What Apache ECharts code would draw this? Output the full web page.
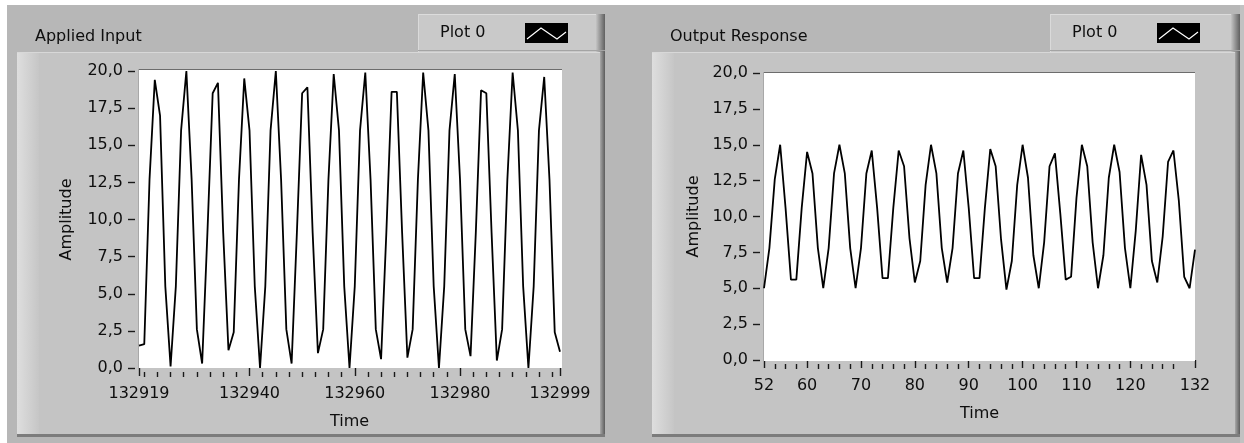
<!DOCTYPE html>
<html>
<head>
<meta charset="utf-8">
<script src="https://cdn.jsdelivr.net/npm/echarts@6/dist/echarts.min.js"></script>
<style>
  html, body { margin: 0; padding: 0; background: #ffffff; }
  #chart { width: 1244px; height: 443px; }
</style>
</head>
<body>
<div id="chart"></div>
<script>
// ---- data ----
const inputTitle = 'Applied Input';
const outputTitle = 'Output Response';
const plotName = 'Plot 0';
const timeName = 'Time';
const amplitudeName = 'Amplitude';

const inputStartTime = 132919;
const inputValues = [
  1.5, 1.6, 12.7, 19.4, 17.0, 5.5, 0.1, 5.5, 16.0, 20.0,
  12.7, 2.6, 0.3, 9.1, 18.5, 19.2, 9.1, 1.2, 2.4, 12.7,
  19.5, 16.0, 5.5, 0.0, 5.5, 16.0, 20.0, 12.7, 2.6, 0.3,
  9.1, 18.5, 18.9, 9.1, 1.0, 2.6, 12.7, 19.8, 16.0, 5.5,
  0.0, 5.5, 16.0, 19.9, 12.7, 2.6, 0.6, 9.1, 18.6, 18.6,
  9.1, 0.7, 2.6, 12.7, 19.9, 16.0, 5.5, 0.0, 5.5, 16.0,
  19.8, 12.7, 2.6, 0.8, 9.1, 18.7, 18.5, 9.1, 0.5, 2.6,
  12.7, 19.9, 16.0, 5.5, 0.0, 5.5, 16.0, 19.6, 12.7, 2.4,
  1.1
];

const outputStartTime = 52;
const outputValues = [
  5.0, 7.8, 12.6, 15.0, 10.6, 5.6, 5.6, 10.6, 14.5, 13.0,
  7.8, 5.0, 7.8, 13.0, 15.0, 13.0, 7.8, 5.0, 7.8, 13.0,
  14.6, 10.6, 5.7, 5.7, 10.6, 14.6, 13.5, 8.5, 5.4, 6.9,
  12.2, 15.0, 13.0, 7.8, 5.4, 7.8, 13.0, 14.6, 10.6, 5.7,
  5.7, 10.6, 14.7, 13.5, 8.4, 4.9, 6.9, 12.2, 15.0, 12.7,
  7.3, 5.0, 8.2, 13.5, 14.4, 10.2, 5.6, 5.8, 11.3, 15.0,
  13.5, 8.2, 5.0, 7.3, 12.7, 15.0, 13.1, 7.8, 5.0, 9.0,
  14.3, 12.2, 6.9, 5.4, 8.6, 13.8, 14.6, 11.1, 5.8, 5.0,
  7.7
];

const inputMajorTicks = [132919, 132940, 132960, 132980, 132999];
const outputMajorTicks = [52, 60, 70, 80, 90, 100, 110, 120, 132];
const amplitudeMin = 0;
const amplitudeMax = 20;
const amplitudeStep = 2.5;

// minor tick marks between the labelled ones
const inputMinorTicks = [];
for (let v = 132920; v < 132999; v += 2.5) {
  if (inputMajorTicks.indexOf(v) < 0) inputMinorTicks.push(v);
}
const outputMinorTicks = [];
for (let v = 54; v < 132; v += 2) {
  if (v % 10 !== 0) outputMinorTicks.push(v);
}

// ---- helpers ----
const FONT = "'DejaVu Sans', 'Noto Sans', sans-serif";
const TEXT = '#0e0e0e';
const TICK = '#1a1a1a';
const toPairs = (start, vals) => vals.map((v, i) => [start + i, v]);
const commaFmt = v => v.toFixed(1).replace('.', ',');

function hGrad(a, b) {
  return { type: 'linear', x: 0, y: 0, x2: 1, y2: 0, colorStops: [{ offset: 0, color: a }, { offset: 1, color: b }] };
}

// one framed graph panel with its caption and plot legend
function panel(x, w, title, legendX, plotRect) {
  const els = [];
  const y = 52, h = 385;
  els.push({ type: 'rect', shape: { x: x, y: y, width: w, height: h }, style: { fill: '#c4c4c4' }, z: 0 });
  els.push({ type: 'rect', shape: { x: x, y: y, width: 22, height: h }, style: { fill: hGrad('#dedede', '#c6c6c6') }, z: 0 });
  els.push({ type: 'line', shape: { x1: x, y1: y + 0.5, x2: x + w, y2: y + 0.5 }, style: { stroke: '#d8d8d8', lineWidth: 1 }, z: 0 });
  els.push({ type: 'rect', shape: { x: x + w - 5, y: y, width: 5, height: h }, style: { fill: hGrad('#a8a8a8', '#5c5c5c') }, z: 0 });
  els.push({ type: 'rect', shape: { x: x, y: y + h - 3, width: w, height: 3 }, style: { fill: '#7c7c7c' }, z: 0 });
  // caption
  els.push({ type: 'text', x: x + 18, y: 37, style: { text: title, font: '16px ' + FONT, fill: TEXT, verticalAlign: 'middle' }, z: 1 });
  // plot legend box
  const lw = x + w - legendX;
  els.push({ type: 'rect', shape: { x: legendX, y: 14, width: lw, height: 38 }, style: { fill: '#c9c9c9' }, z: 0 });
  els.push({ type: 'line', shape: { x1: legendX, y1: 14.5, x2: legendX + lw, y2: 14.5 }, style: { stroke: '#dcdcdc', lineWidth: 1 }, z: 0 });
  els.push({ type: 'line', shape: { x1: legendX + 0.5, y1: 14, x2: legendX + 0.5, y2: 52 }, style: { stroke: '#dadada', lineWidth: 1 }, z: 0 });
  els.push({ type: 'rect', shape: { x: legendX + lw - 9, y: 14, width: 9, height: 38 }, style: { fill: hGrad('#c4c4c4', '#606060') }, z: 0 });
  els.push({ type: 'line', shape: { x1: legendX, y1: 50.5, x2: legendX + lw, y2: 50.5 }, style: { stroke: '#a4a4a4', lineWidth: 1 }, z: 0 });
  els.push({ type: 'text', x: legendX + 22, y: 33, style: { text: plotName, font: '16px ' + FONT, fill: TEXT, verticalAlign: 'middle' }, z: 1 });
  const sx = legendX + 107, sy = 23;
  els.push({ type: 'rect', shape: { x: sx, y: sy, width: 43, height: 20 }, style: { fill: '#000000' }, z: 1 });
  els.push({ type: 'polyline', shape: { points: [[sx + 2, sy + 16], [sx + 16, sy + 5], [sx + 32, sy + 16], [sx + 41, sy + 9]] },
             style: { stroke: '#ffffff', lineWidth: 1.2, fill: null }, z: 2 });
  // plot area
  const p = plotRect;
  els.push({ type: 'rect', shape: { x: p[0], y: p[1], width: p[2], height: p[3] }, style: { fill: '#ffffff' }, z: 1 });
  els.push({ type: 'line', shape: { x1: p[0], y1: p[1] + 0.5, x2: p[0] + p[2], y2: p[1] + 0.5 }, style: { stroke: '#6c6c6c', lineWidth: 1 }, z: 1 });
  els.push({ type: 'line', shape: { x1: p[0] + 0.5, y1: p[1], x2: p[0] + 0.5, y2: p[1] + p[3] }, style: { stroke: '#a8a8a8', lineWidth: 1 }, z: 1 });
  return els;
}

const graphics = [
  { type: 'rect', shape: { x: 7, y: 5, width: 1237, height: 438 }, style: { fill: '#b7b7b7' }, z: 0 },
  { type: 'rect', shape: { x: 1240, y: 5, width: 4, height: 438 }, style: { fill: '#c2c2c2' }, z: 0 }
].concat(
  panel(17, 588, inputTitle, 418, [138, 69, 424, 299]),
  panel(652, 588, outputTitle, 1050, [763, 72, 432, 289])
);

function xAxes(gridIndex, min, max, major, minor, offset) {
  const common = {
    type: 'value', gridIndex: gridIndex, min: min, max: max, position: 'bottom', offset: offset,
    axisLine: { show: false }, splitLine: { show: false }
  };
  return [
    Object.assign({}, common, {
      axisTick: { show: true, customValues: major, length: 8, lineStyle: { color: TICK, width: 1.4 } },
      axisLabel: { show: true, customValues: major, margin: 14, formatter: v => String(v),
                   fontFamily: FONT, fontSize: 16, color: TEXT },
      name: timeName, nameLocation: 'middle', nameGap: 42,
      nameTextStyle: { fontFamily: FONT, fontSize: 16, color: TEXT }
    }),
    Object.assign({}, common, {
      axisTick: { show: true, customValues: minor, length: 5, lineStyle: { color: TICK, width: 1.4 } },
      axisLabel: { show: false }
    })
  ];
}

function yAxis(gridIndex, nameGap) {
  return {
    type: 'value', gridIndex: gridIndex, min: amplitudeMin, max: amplitudeMax, interval: amplitudeStep,
    position: 'left', offset: 4,
    axisLine: { show: false }, splitLine: { show: false },
    axisTick: { show: true, length: 7, lineStyle: { color: TICK, width: 1.4 } },
    axisLabel: { margin: 12, formatter: commaFmt, fontFamily: FONT, fontSize: 16, color: TEXT },
    name: amplitudeName, nameLocation: 'middle', nameGap: nameGap, nameRotate: 90,
    nameTextStyle: { fontFamily: FONT, fontSize: 16, color: TEXT }
  };
}

const lineStyle = { color: '#000000', width: 1.8 };

const option = {
  animation: false,
  backgroundColor: '#ffffff',
  graphic: { elements: graphics },
  grid: [
    { left: 139, top: 71, width: 421, height: 297, show: false },
    { left: 764, top: 73, width: 431, height: 287, show: false }
  ],
  xAxis: [].concat(
    xAxes(0, inputMajorTicks[0], inputMajorTicks[inputMajorTicks.length - 1], inputMajorTicks, inputMinorTicks, 4),
    xAxes(1, outputMajorTicks[0], outputMajorTicks[outputMajorTicks.length - 1], outputMajorTicks, outputMinorTicks, 4)
  ),
  yAxis: [yAxis(0, 60), yAxis(1, 58)],
  series: [
    { type: 'line', xAxisIndex: 0, yAxisIndex: 0, data: toPairs(inputStartTime, inputValues),
      showSymbol: false, symbol: 'none', lineStyle: lineStyle, z: 5 },
    { type: 'line', xAxisIndex: 2, yAxisIndex: 1, data: toPairs(outputStartTime, outputValues),
      showSymbol: false, symbol: 'none', lineStyle: lineStyle, z: 5 }
  ]
};

const chart = echarts.init(document.getElementById('chart'), null, { renderer: 'canvas' });
chart.setOption(option);
</script>
</body>
</html>
